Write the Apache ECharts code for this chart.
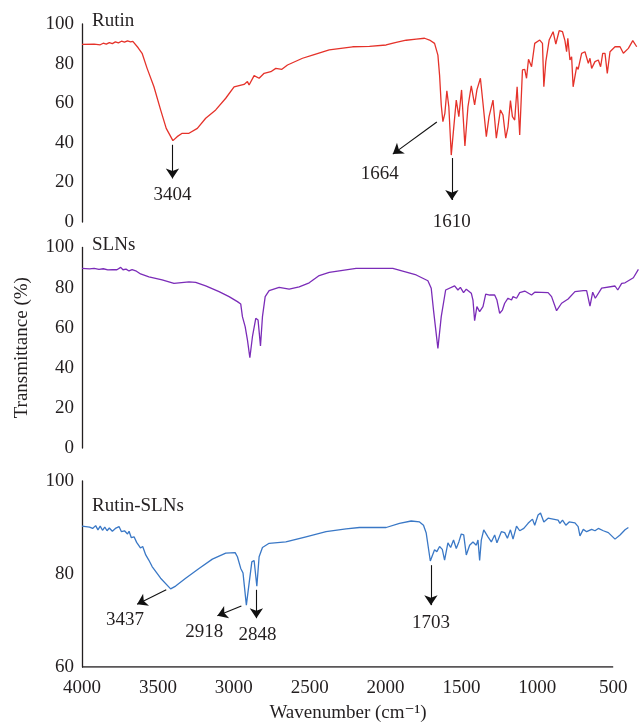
<!DOCTYPE html>
<html>
<head>
<meta charset="utf-8">
<title>FTIR spectra</title>
<script src="https://cdn.jsdelivr.net/npm/echarts@6/dist/echarts.min.js"></script>
<style>
  html, body { margin: 0; padding: 0; background: #fff; }
  #main { width: 639px; height: 724px; }
</style>
</head>
<body>
<div id="main"></div>
<script>
// wavenumber ticks (cm-1), drawn right to left
var xTicks = [4000, 3500, 3000, 2500, 2000, 1500, 1000, 500];
var xMin = 330; // spectra run past the last tick
var panelNames = ['Rutin', 'SLNs', 'Rutin-SLNs'];
var colors = ['#e5322a', '#7b2cb8', '#3a78c6'];
var yRanges = [[0, 100, 20], [0, 100, 20], [60, 100, 20]];

// spectra: [wavenumber, transmittance %]
var rutin = [
  [4000,89.7],[3920,89.8],[3880,89.5],[3860,90.3],[3840,89.8],[3820,90.6],[3800,90.1],[3780,91.0],
  [3760,90.5],[3740,91.3],[3720,90.8],[3700,91.5],[3680,91.0],[3665,91.2],[3657,90.2],[3630,88.0],
  [3604,85.2],[3571,77.6],[3526,68.3],[3482,56.6],[3445,47.3],[3401,41.1],[3373,43.1],[3340,44.8],
  [3295,44.8],[3240,47.3],[3185,52.4],[3119,56.6],[3053,62.5],[2998,68.3],[2932,69.5],[2910,70.9],
  [2899,69.2],[2866,73.9],[2833,72.6],[2800,75.1],[2756,75.9],[2723,77.6],[2683,77.1],[2646,79.3],
  [2547,82.7],[2481,84.3],[2371,86.9],[2217,88.5],[2106,88.7],[1996,89.4],[1930,90.7],[1864,91.8],
  [1798,92.4],[1743,92.8],[1710,91.9],[1677,90.2],[1655,84.3],[1644,74.2],[1633,59.1],[1622,50.7],
  [1609,54.9],[1596,66.3],[1583,58.2],[1567,33.8],[1552,46.5],[1534,61.6],[1517,53.2],[1499,66.7],
  [1477,38.4],[1457,58.2],[1435,68.7],[1413,59.1],[1398,66.7],[1375,72.6],[1358,60.0],[1347,59.1],
  [1336,43.1],[1318,53.2],[1292,61.6],[1270,42.3],[1243,56.6],[1226,54.0],[1208,42.3],[1193,48.1],
  [1177,61.3],[1164,53.2],[1149,51.5],[1133,68.3],[1116,43.9],[1098,76.8],[1083,77.1],[1071,72.6],
  [1058,82.2],[1038,78.4],[1017,90.2],[984,91.9],[966,90.2],[957,68.3],[944,81.0],[922,91.9],
  [896,96.1],[878,89.9],[856,96.6],[834,96.1],[818,91.6],[807,86.0],[799,92.8],[785,81.8],
  [774,83.5],[764,68.3],[741,78.4],[731,77.1],[708,85.2],[686,86.0],[664,80.1],[653,82.7],
  [642,77.6],[620,81.0],[598,81.8],[583,78.4],[569,85.2],[554,85.2],[539,75.1],[521,86.0],
  [488,88.5],[455,88.5],[433,85.2],[400,87.7],[371,91.6],[345,88.5]
];
var sln = [
  [4000,89.6],[3950,89.3],[3920,89.6],[3888,89.1],[3860,89.4],[3830,88.8],[3800,89.0],[3770,88.9],
  [3745,90.1],[3730,88.9],[3710,89.2],[3690,88.3],[3670,89.0],[3646,88.4],[3614,86.8],[3559,85.4],
  [3472,83.8],[3394,82.1],[3295,82.9],[3251,82.6],[3185,80.9],[3097,78.0],[3031,75.5],[2976,73.0],
  [2954,71.8],[2943,65.5],[2925,60.5],[2910,53.9],[2894,45.0],[2877,55.5],[2855,64.7],[2840,63.8],
  [2824,50.9],[2811,65.5],[2793,75.5],[2767,78.5],[2701,80.1],[2635,79.2],[2569,80.4],[2503,82.4],
  [2437,86.0],[2371,87.6],[2194,89.6],[1952,89.6],[1798,86.3],[1721,83.4],[1699,79.7],[1684,68.8],
  [1655,49.7],[1633,65.5],[1604,78.8],[1545,80.9],[1523,78.8],[1507,80.1],[1486,77.5],[1468,79.2],
  [1435,77.2],[1424,73.8],[1413,63.5],[1398,70.5],[1380,68.0],[1358,70.5],[1340,76.8],[1314,76.3],
  [1281,76.3],[1266,73.8],[1248,67.2],[1230,68.8],[1215,72.2],[1193,74.7],[1170,73.8],[1160,75.5],
  [1137,74.7],[1116,77.5],[1083,78.3],[1038,76.3],[1017,77.7],[929,77.5],[906,75.5],[873,68.5],
  [840,72.2],[797,74.3],[752,78.0],[697,78.5],[675,78.5],[653,70.8],[635,77.7],[618,74.7],
  [576,79.7],[488,80.8],[470,78.8],[444,82.1],[422,82.4],[367,84.9],[334,89.1]
];
var rutinSln = [
  [4000,90.3],[3950,90.1],[3930,89.8],[3910,90.4],[3895,89.5],[3880,90.3],[3865,89.4],[3850,90.1],
  [3835,89.3],[3820,89.9],[3800,89.2],[3780,89.8],[3756,90.2],[3740,89.1],[3720,89.3],[3700,88.6],
  [3690,89.2],[3675,87.8],[3657,88.0],[3640,86.8],[3630,87.2],[3615,85.6],[3600,85.9],[3580,84.1],
  [3560,83.0],[3538,81.6],[3482,79.1],[3416,76.8],[3383,77.4],[3317,79.1],[3229,81.2],[3141,83.2],
  [3053,84.5],[2991,84.6],[2976,83.7],[2954,81.2],[2939,80.2],[2917,73.3],[2899,78.0],[2881,82.6],
  [2866,82.9],[2848,77.4],[2833,83.7],[2811,85.7],[2767,86.6],[2657,86.9],[2524,88.0],[2392,89.1],
  [2260,89.7],[2172,90.0],[1996,90.0],[1908,90.9],[1831,91.4],[1776,91.2],[1750,90.5],[1732,88.8],
  [1705,82.8],[1677,85.2],[1662,84.8],[1644,85.9],[1626,85.3],[1611,83.0],[1589,86.7],[1571,85.7],
  [1552,87.3],[1534,85.5],[1517,86.9],[1501,88.6],[1485,88.4],[1468,84.1],[1446,86.2],[1424,86.9],
  [1402,86.2],[1391,87.3],[1380,82.9],[1369,87.3],[1353,89.5],[1325,88.0],[1303,86.9],[1281,88.4],
  [1266,86.7],[1237,89.1],[1215,88.9],[1197,87.7],[1177,89.5],[1160,87.5],[1137,90.3],[1116,89.3],
  [1089,89.8],[1061,90.9],[1032,91.8],[1017,90.5],[995,92.7],[979,93.1],[957,91.2],[929,92.0],
  [896,91.8],[863,91.6],[851,90.9],[834,91.6],[812,90.5],[790,91.2],[752,91.0],[731,90.2],
  [719,88.2],[697,89.6],[675,89.1],[642,89.6],[620,89.3],[598,89.8],[565,89.3],[532,88.9],
  [488,87.5],[455,88.4],[422,89.5],[400,90.0]
];

// peak annotations: label, arrow start, arrow end, label position (data coords)
var rutinPeaks = [
  { name: '3404', from: [3404, 39], to: [3404, 22], at: [3404, 13.5] },
  { name: '1664', from: [1662, 50.5], to: [1952, 34.3], at: [2038, 24.2] },
  { name: '1610', from: [1563, 32.3], to: [1563, 11.1], at: [1563, 0] }
];
var slnPeaks = [];
var rutinSlnPeaks = [
  { name: '3437', from: [3445, 76.6], to: [3637, 73.5], at: [3716, 70.1] },
  { name: '2918', from: [2950, 73.1], to: [3108, 71.0], at: [3194, 67.5] },
  { name: '2848', from: [2851, 76.6], to: [2851, 70.5], at: [2844, 66.9] },
  { name: '1703', from: [1701, 81.9], to: [1701, 73.3], at: [1701, 69.5] }
];

var serif = "'Liberation Serif', 'DejaVu Serif', serif";
var ink = '#231f20';
var grids = [
  { left: 82, right: 0, top: 24, height: 198 },
  { left: 82, right: 0, top: 247.5, height: 200.5 },
  { left: 82, right: 0, top: 481, height: 186 }
];
var spectra = [rutin, sln, rutinSln];
var peaks = [rutinPeaks, slnPeaks, rutinSlnPeaks];

var chart = echarts.init(document.getElementById('main'), null, { renderer: 'canvas' });

var xAxes = [], yAxes = [], series = [], titles = [];
for (var i = 0; i < 3; i++) {
  var last = i === 2;
  xAxes.push({
    gridIndex: i,
    type: 'value',
    inverse: true,
    min: xMin,
    max: Math.max.apply(null, xTicks),
    axisLine: { show: false },
    axisTick: { show: false },
    axisLabel: { show: last, customValues: xTicks, fontFamily: serif, fontSize: 19, color: ink, margin: 12,
      formatter: function (v) { return String(v); } },
    splitLine: { show: false }
  });
  yAxes.push({
    gridIndex: i,
    type: 'value',
    min: yRanges[i][0],
    max: yRanges[i][1],
    interval: yRanges[i][2],
    name: i === 1 ? 'Transmittance (%)' : '',
    nameLocation: 'middle',
    nameGap: 50,
    nameTextStyle: { fontFamily: serif, fontSize: 19, color: ink },
    axisLine: { show: true, lineStyle: { color: ink, width: 1.3 } },
    axisTick: { show: false },
    axisLabel: { fontFamily: serif, fontSize: 19, color: ink, margin: 8 },
    splitLine: { show: false }
  });
  titles.push({
    text: panelNames[i],
    left: 92,
    top: [12, 236, 497][i],
    padding: 0,
    textStyle: { fontFamily: serif, fontSize: 19, fontWeight: 'normal', color: ink }
  });
  series.push({
    name: panelNames[i],
    type: 'line',
    xAxisIndex: i,
    yAxisIndex: i,
    data: spectra[i],
    symbol: 'none',
    lineStyle: { color: colors[i], width: 1.3 },
    markLine: {
      silent: true,
      symbol: ['none', 'arrow'],
      symbolSize: 10,
      lineStyle: { color: '#111', width: 1.1, type: 'solid' },
      label: { show: false },
      data: peaks[i].map(function (p) { return [{ coord: p.from }, { coord: p.to }]; })
    },
    markPoint: {
      silent: true,
      symbol: 'circle',
      symbolSize: 0,
      label: { show: true, position: 'inside', fontFamily: serif, fontSize: 19, color: ink,
        formatter: function (p) { return p.name; } },
      data: peaks[i].map(function (p) { return { name: p.name, coord: p.at }; })
    }
  });
}

// bottom axis line only spans the labelled range (4000 to 500)
var baseY = yRanges[2][0];
series.push({
  type: 'line',
  xAxisIndex: 2,
  yAxisIndex: 2,
  data: [[Math.max.apply(null, xTicks), baseY], [Math.min.apply(null, xTicks), baseY]],
  symbol: 'none',
  silent: true,
  z: 1,
  lineStyle: { color: ink, width: 1.3 }
});

chart.setOption({
  animation: false,
  title: titles,
  grid: grids,
  xAxis: xAxes,
  yAxis: yAxes,
  series: series,
  graphic: [{
    type: 'text',
    x: 348, y: 704,
    style: { text: 'Wavenumber (cm\u207B\u00B9)', font: "19px 'Liberation Serif', 'DejaVu Serif', serif",
      fill: ink, align: 'center' }
  }]
});
</script>
</body>
</html>
